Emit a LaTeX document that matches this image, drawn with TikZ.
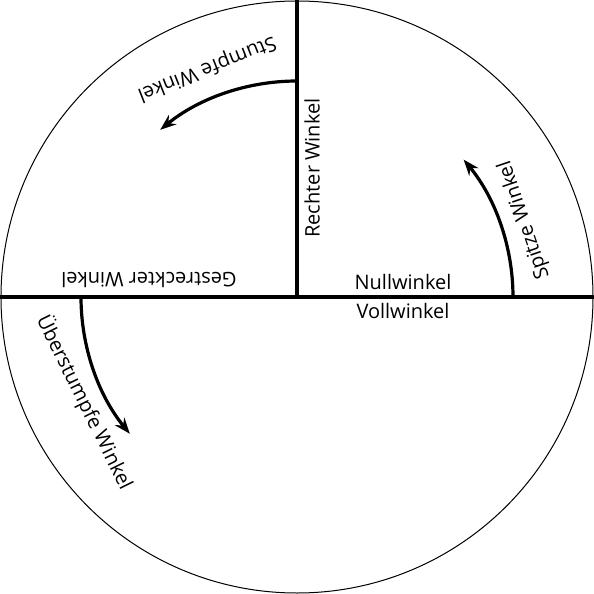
\documentclass[tikz,border=0pt]{standalone}
\usepackage{fontspec}
\setmainfont{Open Sans}
\usetikzlibrary{arrows.meta}

\begin{document}
\begin{tikzpicture}[
  x=0.5pt, y=0.5pt,
  rim/.style={line width=0.5pt},
  axis/.style={line width=1.5pt},
  sweep/.style={-{Stealth[length=8pt, width=6pt]}, line width=1.6pt},
  lbl/.style={font=\fontsize{10}{12}\selectfont, inner sep=0pt},
]
\useasboundingbox (-297,-297) rectangle (297,297);

%% Kreis und Achsen
\coordinate (O) at (0,0);
\draw[rim] (O) circle[radius=296];
\coordinate (west)  at (180:297);
\coordinate (east)  at (0:297);
\coordinate (north) at (90:297);
\draw[axis] (west) -- (east);
\draw[axis] (O) -- (north);

%% Pfeile
\coordinate (spitzA)  at (0:216);
\coordinate (stumpfA) at (90:216);
\coordinate (ueberA)  at (180:216);
\draw[sweep] (spitzA)  arc[start angle=0,   end angle=39.5,  radius=216];
\draw[sweep] (stumpfA) arc[start angle=90,  end angle=129.3, radius=216];
\draw[sweep] (ueberA)  arc[start angle=180, end angle=219.3, radius=216];

%% Beschriftungen
\node[lbl] (null)    at (106,15)  {Nullwinkel};
\node[lbl] (voll)    at (106,-14) {Vollwinkel};
\node[lbl, rotate=90]  (recht)  at (15,129)  {Rechter Winkel};
\node[lbl, rotate=180] (gestr)  at (-148,17) {Gestreckter Winkel};
\node[lbl, rotate=108.7] (spitz)  at (18.7:240)  {Spitze Winkel};
\node[lbl, rotate=201.5] (stumpf) at (111.5:246) {Stumpfe Winkel};
\node[lbl, rotate=296.3] (ueber)  at (206.3:237) {Überstumpfe Winkel};

\end{tikzpicture}
\end{document}
